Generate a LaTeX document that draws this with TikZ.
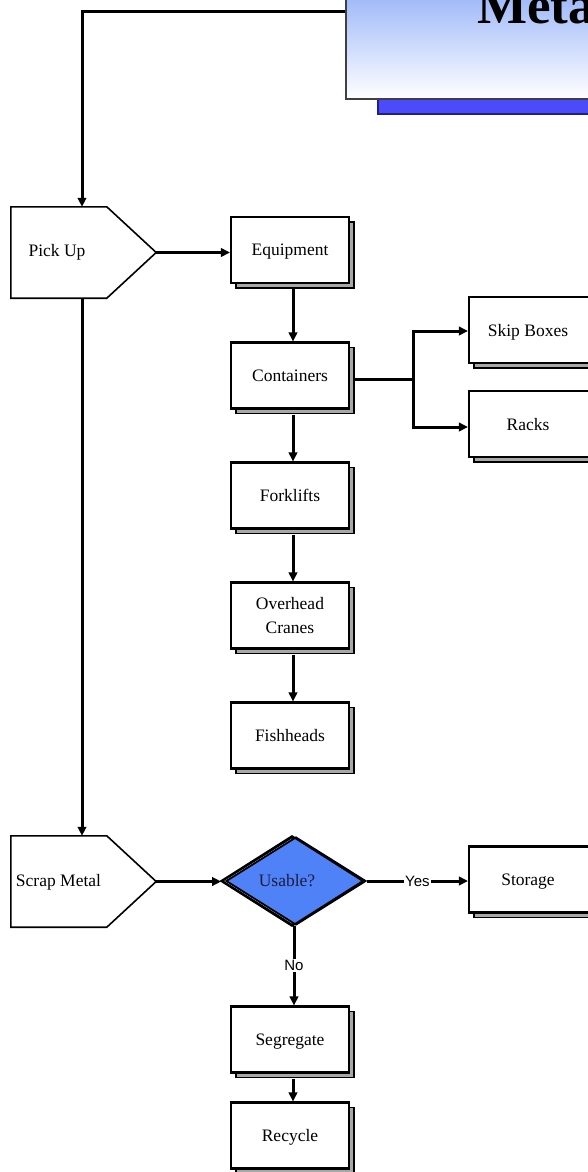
\documentclass[tikz,border=0pt]{standalone}
\usepackage{fontspec}
\setmainfont{Liberation Serif}
\newfontfamily\labelsans{Liberation Sans}
\usetikzlibrary{arrows.meta,shapes.geometric,shadows,calc}
\definecolor{diamondblue}{HTML}{4F81F7}
\definecolor{titletop}{RGB}{92,136,244}
\definecolor{titleshadow}{HTML}{4B4BFB}
\definecolor{titleshadowedge}{HTML}{1E1E8C}
\definecolor{boxshadow}{HTML}{A8A8A8}
\definecolor{decisiontext}{HTML}{1C1C3C}

\begin{document}
\begin{tikzpicture}[x=1pt,y=-1pt,
  textfont/.style={font=\fontsize{17.5}{24}\selectfont, text depth=0pt},
  stepbox/.style={draw=black, line width=2.1pt, fill=white,
    minimum width=118pt, minimum height=66pt, inner sep=0pt,
    textfont, align=center,
    copy shadow={shadow xshift=5pt, shadow yshift=-5pt,
      fill=boxshadow, draw=black, line width=1.6pt}},
  widebox/.style={stepbox, minimum width=124pt},
  portbox/.style={minimum width=145pt, minimum height=91pt, inner sep=0pt},
  portline/.style={draw=black, line width=1.6pt, fill=white},
  decision/.style={diamond, draw=black, line width=1.8pt,
    minimum width=140pt, minimum height=88pt, inner sep=0pt},
  wire/.style={line width=3pt},
  conn/.style={wire, -{Triangle[length=9pt,width=8.5pt]}},
  tag/.style={fill=white, inner sep=1.5pt, font=\labelsans\fontsize{15}{18}\selectfont},
]
\useasboundingbox (0,0) rectangle (587,1172);

% title banner with its offset shadow
\node[fill=titleshadow, draw=titleshadowedge, line width=1.8pt,
      minimum width=454pt, minimum height=174pt, inner sep=0pt]
      (titleshade) at (605,27) {};
\node[draw=black!75, line width=1.8pt, top color=titletop, bottom color=white,
      minimum width=454pt, minimum height=174pt, inner sep=0pt]
      (title) at (573,12) {};
\node[anchor=base west, inner sep=0pt, font=\bfseries\fontsize{53}{60}\selectfont]
      (titletext) at (477,24) {Metal};

% off-page style pentagons
\node[portbox] (pick) at (83.5,252.5) {};
\draw[portline] (pick.north west) -- ([xshift=96pt]pick.north west) -- (pick.east)
  -- ([xshift=96pt]pick.south west) -- (pick.south west) -- cycle;
\node[textfont] (picktext) at (57,250) {Pick Up};

\node[portbox] (scrap) at (83.5,881.5) {};
\draw[portline] (scrap.north west) -- ([xshift=96pt]scrap.north west) -- (scrap.east)
  -- ([xshift=96pt]scrap.south west) -- (scrap.south west) -- cycle;
\node[textfont] (scraptext) at (58.5,880) {Scrap Metal};

% equipment column
\node[stepbox] (eq)    at (290,250)   {Equipment};
\node[stepbox] (cont)  at (290,375.5) {Containers};
\node[stepbox] (fork)  at (290,495.5) {Forklifts};
\node[stepbox] (crane) at (290,615.5) {Overhead\\Cranes};
\node[stepbox] (fish)  at (290,735.5) {Fishheads};

% container types
\node[widebox] (skip)  at (531,330) {\hspace*{-6pt}Skip Boxes};
\node[widebox] (racks) at (531,424) {\hspace*{-6pt}Racks};

% decision and its outcomes
\node[decision, fill=white] (dA) at (292,881) {};
\node[decision, fill=diamondblue] (dB) at (296,881) {};
\draw[line width=1.8pt] (dA.west) -- (dA.north) -- (dA.east) -- (dA.south) -- cycle;
\node[textfont, text=decisiontext] (usable) at (287,880) {Usable?};

\node[widebox] (storage) at (531,879.5) {\hspace*{-6pt}Storage};
\node[stepbox] (seg)   at (290,1039.5) {Segregate};
\node[stepbox] (recyc) at (290,1135.5) {Recycle};

% connectors
\draw[conn] (title.west) -| ([xshift=-1.5pt]pick.north);
\draw[conn] ([xshift=-1.5pt]pick.south) -- ([xshift=-1.5pt]scrap.north);
\draw[conn] (pick.east) -- (pick.east -| eq.west);

\draw[conn] ([xshift=3pt,yshift=-5pt]eq.south)    -- ([xshift=3pt]cont.north);
\draw[conn] ([xshift=3pt,yshift=-5pt]cont.south)  -- ([xshift=3pt]fork.north);
\draw[conn] ([xshift=3pt,yshift=-5pt]fork.south)  -- ([xshift=3pt]crane.north);
\draw[conn] ([xshift=3pt,yshift=-5pt]crane.south) -- ([xshift=3pt]fish.north);

\coordinate (split) at (413,379);
\draw[wire] ([xshift=5pt,yshift=-3.5pt]cont.east) -- (split);
\draw[conn] (split) |- ([yshift=-1pt]skip.west);
\draw[conn] (split) |- ([yshift=-3pt]racks.west);

\draw[conn] (scrap.east) -- (scrap.east -| dA.west);
\draw[conn] (dB.east) -- node[tag] (yes) {Yes} (dB.east -| storage.west);

\coordinate (dbottom) at ($(dA.south)!0.5!(dB.south)$);
\draw[conn] (dbottom) -- node[tag] (no) {No} (dbottom |- seg.north);
\draw[conn] ([xshift=3pt,yshift=-5pt]seg.south) -- ([xshift=3pt]recyc.north);
\end{tikzpicture}
\end{document}
